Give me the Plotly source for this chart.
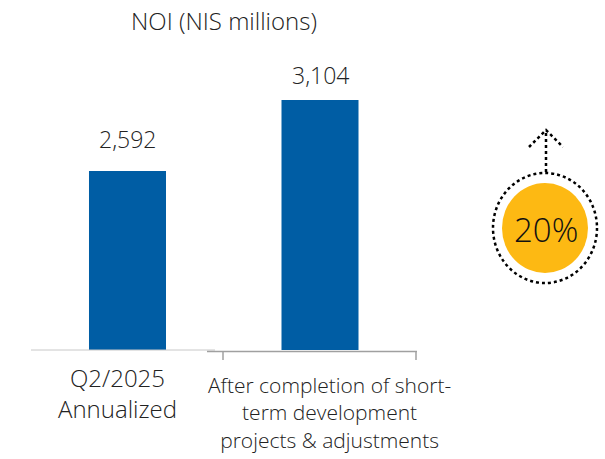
import plotly.graph_objects as go

categories = ["Q2/2025<br>Annualized",
              "After completion of short-<br>term development<br>projects & adjustments"]
values = [2592, 3104]
value_labels = ["2,592", "3,104"]
growth_label = "20%"
title_text = "NOI (NIS millions)"

W, H = 605, 459
BLUE = "#005DA4"
YELLOW = "#FDB913"
FONT = "Open Sans"
FW = 300
TXT = "#222222"

def px(x):
    return x / W

def py(y):
    return (H - y) / H

fig = go.Figure()
fig.add_trace(go.Bar(
    x=[0, 1], y=values, width=0.4, marker=dict(color=BLUE, line=dict(width=0)),
    hoverinfo="skip",
))

shapes = []
shapes.append(dict(type="line", xref="paper", yref="paper",
                   x0=px(31), x1=px(215), y0=py(350), y1=py(350),
                   line=dict(color="#c8c8c8", width=1)))
shapes.append(dict(type="line", xref="paper", yref="paper",
                   x0=px(207), x1=px(417), y0=py(351.5), y1=py(351.5),
                   line=dict(color="#a0a0a0", width=1.5)))
for tx in (223, 416):
    shapes.append(dict(type="line", xref="paper", yref="paper",
                       x0=px(tx), x1=px(tx), y0=py(351.5), y1=py(360),
                       line=dict(color="#a0a0a0", width=1.5)))
cx, cy = 545, 228
shapes.append(dict(type="circle", xref="paper", yref="paper",
                   x0=px(cx - 52), x1=px(cx + 52), y0=py(cy + 55), y1=py(cy - 55),
                   line=dict(color="black", width=2.5, dash="dot")))
shapes.append(dict(type="circle", xref="paper", yref="paper",
                   x0=px(cx - 43), x1=px(cx + 43), y0=py(cy + 45), y1=py(cy - 45),
                   fillcolor=YELLOW, line=dict(width=0)))
shapes.append(dict(type="line", xref="paper", yref="paper",
                   x0=px(546), x1=px(546), y0=py(172), y1=py(131),
                   line=dict(color="black", width=2.5, dash="dot")))
shapes.append(dict(type="path", xref="paper", yref="paper",
                   path=f"M {px(529)},{py(147)} L {px(546)},{py(130)} L {px(563)},{py(147)}",
                   line=dict(color="black", width=2.5, dash="dot")))

annotations = [
    dict(text=title_text, xref="paper", yref="paper", x=px(224), y=py(2),
         xanchor="center", yanchor="top", showarrow=False,
         font=dict(family=FONT, size=24, color=TXT, weight=FW)),
    dict(text=growth_label, xref="paper", yref="paper", x=px(546), y=py(229),
         xanchor="center", yanchor="middle", showarrow=False,
         font=dict(family=FONT, size=33, color="#111111", weight=FW)),
]
# value labels above bars
val_shift = [14, 7]
for i, (v, lab) in enumerate(zip(values, value_labels)):
    annotations.append(dict(text=lab, xref="x", yref="y", x=i, y=v,
                            xanchor="center", yanchor="bottom", yshift=val_shift[i],
                            showarrow=False,
                            font=dict(family=FONT, size=23, color=TXT, weight=FW)))
# category labels
lab_top = [359, 368.5]
lab_size = [24, 21]
lab_xshift = [-10, 9]
for i, lab in enumerate(categories):
    annotations.append(dict(text=lab, xref="x", yref="paper", x=i, y=py(lab_top[i]),
                            xanchor="center", yanchor="top", showarrow=False,
                            xshift=lab_xshift[i],
                            font=dict(family=FONT, size=lab_size[i], color=TXT, weight=FW)))

fig.update_layout(
    width=W, height=H, margin=dict(l=0, r=0, t=0, b=0, autoexpand=False),
    paper_bgcolor="white", plot_bgcolor="white", showlegend=False,
    xaxis=dict(range=[-0.6623, 2.4805], visible=False, fixedrange=True),
    yaxis=dict(range=[1301, 3824], domain=[(H - 350) / H, 1], visible=False,
               fixedrange=True),
    shapes=shapes, annotations=annotations,
)
fig.write_html("out.html", config={"displayModeBar": False},
               post_script="document.body.style.margin='0';document.body.style.overflow='hidden';")
